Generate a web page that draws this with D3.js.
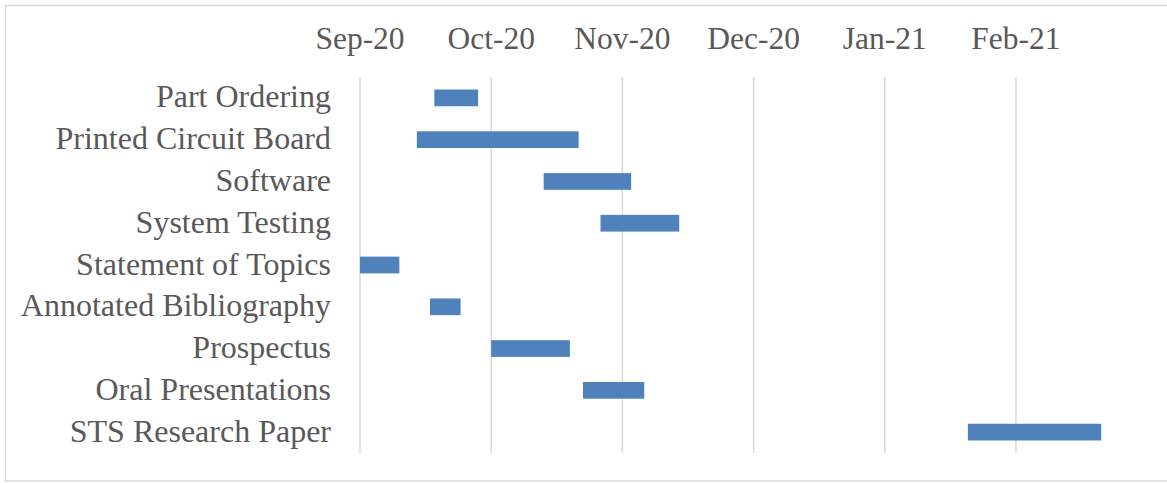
<!DOCTYPE html>
<html>
<head>
<meta charset="utf-8">
<script src="https://cdn.jsdelivr.net/npm/d3@7/dist/d3.min.js"></script>
<style>
  body { margin: 0; background: #fff; }
  text { font-family: "Liberation Serif", "Times New Roman", serif; fill: #595959; }
</style>
</head>
<body>
<div id="chart"></div>
<script>
// tasks, top to bottom; start / end are days from the axis start
var tasks = ["Part Ordering", "Printed Circuit Board", "Software", "System Testing",
             "Statement of Topics", "Annotated Bibliography", "Prospectus",
             "Oral Presentations", "STS Research Paper"];
var startDay = [17, 13, 42, 55, 0, 16, 30, 51, 139];
var endDay   = [27, 50, 62, 73, 9, 23, 48, 65, 169.5];

// axis ticks every 30 days
var tickDays   = [0, 30, 60, 90, 120, 150];
var tickLabels = ["Sep-20", "Oct-20", "Nov-20", "Dec-20", "Jan-21", "Feb-21"];

var W = 1167, H = 483;
var plot = {left: 360, right: 1103.4, top: 77, bottom: 453};

var svg = d3.select("#chart").append("svg")
    .attr("width", W).attr("height", H);

// chart border
svg.append("rect")
    .attr("x", 5.5).attr("y", 5.5)
    .attr("width", W + 10).attr("height", H - 2 - 5.5)
    .attr("fill", "none").attr("stroke", "#d9d9d9").attr("stroke-width", 1.5);

var x = d3.scaleLinear().domain([0, 170]).range([plot.left, plot.right]);
var y = d3.scaleBand().domain(tasks).range([plot.top, plot.bottom]).paddingInner(0.6).paddingOuter(0.3);
var band = d3.scaleBand().domain(tasks).range([plot.top, plot.bottom]);

// vertical gridlines
svg.selectAll("line.grid")
    .data(tickDays)
    .enter().append("line")
    .attr("class", "grid")
    .attr("x1", function(d){ return x(d); })
    .attr("x2", function(d){ return x(d); })
    .attr("y1", plot.top).attr("y2", plot.bottom)
    .attr("stroke", "#d9d9d9").attr("stroke-width", 1.5);

// top date labels
svg.selectAll("text.tick")
    .data(tickDays)
    .enter().append("text")
    .attr("class", "tick")
    .attr("x", function(d){ return x(d); })
    .attr("y", 49)
    .attr("text-anchor", "middle")
    .attr("font-size", "31.5px")
    .text(function(d, i){ return tickLabels[i]; });

// bars
svg.selectAll("rect.bar")
    .data(tasks)
    .enter().append("rect")
    .attr("class", "bar")
    .attr("x", function(d, i){ return x(startDay[i]); })
    .attr("width", function(d, i){ return x(endDay[i]) - x(startDay[i]); })
    .attr("y", function(d){ return y(d); })
    .attr("height", y.bandwidth())
    .attr("fill", "#4f81bd");

// task labels
svg.selectAll("text.task")
    .data(tasks)
    .enter().append("text")
    .attr("class", "task")
    .attr("x", 331)
    .attr("y", function(d){ return band(d) + band.bandwidth() / 2 + 9.5; })
    .attr("text-anchor", "end")
    .attr("font-size", "32px")
    .text(function(d){ return d; });
</script>
</body>
</html>
